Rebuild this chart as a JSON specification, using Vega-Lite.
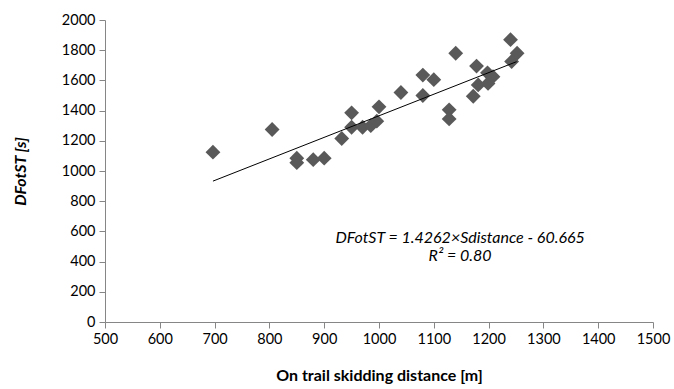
{
  "$schema": "https://vega.github.io/schema/vega-lite/v6.json",
  "autosize": {"type": "none"},
  "width": 548,
  "height": 302,
  "padding": {"left": 105, "top": 20, "right": 21, "bottom": 67},
  "background": "white",
  "config": {
    "view": {"stroke": null},
    "font": "Lato",
    "axis": {
      "grid": false,
      "domainColor": "#868686",
      "tickColor": "#868686",
      "tickSize": 6,
      "labelColor": "#000000",
      "labelFontSize": 14.5,
      "labelOverlap": false,
      "labelFlush": false,
      "format": "d",
      "titleColor": "#000000",
      "titleFontSize": 16,
      "titleFontWeight": "bold"
    }
  },
  "datasets": {
    "points": [
      {"distance": 697, "dfotst": 1125},
      {"distance": 805, "dfotst": 1275},
      {"distance": 850, "dfotst": 1085},
      {"distance": 850, "dfotst": 1055},
      {"distance": 880, "dfotst": 1075},
      {"distance": 900, "dfotst": 1085},
      {"distance": 932, "dfotst": 1215},
      {"distance": 950, "dfotst": 1385},
      {"distance": 950, "dfotst": 1290},
      {"distance": 970, "dfotst": 1290},
      {"distance": 985, "dfotst": 1300},
      {"distance": 996, "dfotst": 1330},
      {"distance": 1000, "dfotst": 1425},
      {"distance": 1040, "dfotst": 1520},
      {"distance": 1080, "dfotst": 1635},
      {"distance": 1080, "dfotst": 1500},
      {"distance": 1100, "dfotst": 1605},
      {"distance": 1140, "dfotst": 1780},
      {"distance": 1128, "dfotst": 1405},
      {"distance": 1128, "dfotst": 1345},
      {"distance": 1178, "dfotst": 1695},
      {"distance": 1172, "dfotst": 1495},
      {"distance": 1181, "dfotst": 1570},
      {"distance": 1198, "dfotst": 1650},
      {"distance": 1199, "dfotst": 1580},
      {"distance": 1208, "dfotst": 1625},
      {"distance": 1240, "dfotst": 1870},
      {"distance": 1252, "dfotst": 1780},
      {"distance": 1242, "dfotst": 1725}
    ],
    "trend": [
      {"distance": 697, "dfotst": 933},
      {"distance": 1251, "dfotst": 1724}
    ],
    "labels": [
      {"distance": 1148, "dfotst": 556, "text": "DFotST = 1.4262×Sdistance - 60.665"},
      {"distance": 1148, "dfotst": 437, "text": "R² = 0.80"}
    ]
  },
  "encoding": {
    "x": {
      "field": "distance", "type": "quantitative",
      "scale": {"domain": [500, 1500], "nice": false, "zero": false},
      "axis": {"values": [500,600,700,800,900,1000,1100,1200,1300,1400,1500], "tickCount": 20, "title": "On trail skidding distance [m]", "titlePadding": 22, "labelPadding": 4, "labelOverlap": false}
    },
    "y": {
      "field": "dfotst", "type": "quantitative",
      "scale": {"domain": [0, 2000], "nice": false},
      "axis": {"values": [0,200,400,600,800,1000,1200,1400,1600,1800,2000], "tickCount": 20, "title": "DFotST [s]", "titleFontStyle": "italic", "titlePadding": 33, "labelPadding": 4, "labelOverlap": false}
    }
  },
  "layer": [
    {
      "data": {"name": "points"},
      "mark": {"type": "point", "shape": "diamond", "filled": true, "size": 220, "color": "#595959", "opacity": 1}
    },
    {
      "data": {"name": "trend"},
      "mark": {"type": "line", "color": "#000000", "strokeWidth": 1}
    },
    {
      "data": {"name": "labels"},
      "mark": {"type": "text", "fontSize": 16, "font": "Lato", "fontStyle": "italic", "align": "center", "baseline": "middle", "color": "#000000"},
      "encoding": {
        "text": {"field": "text"}
      }
    }
  ]
}
